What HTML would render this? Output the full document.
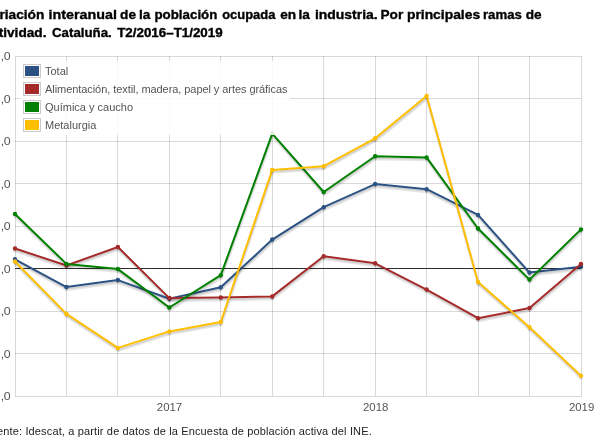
<!DOCTYPE html>
<html><head><meta charset="utf-8"><style>
html,body{margin:0;padding:0;background:#fff;}
body{width:600px;height:448px;overflow:hidden;position:relative;font-family:"Liberation Sans",sans-serif;}
svg{position:absolute;left:0;top:0;}
.lbl,.lt,.foot,.ttl{will-change:transform;}
.legbg{position:absolute;left:20px;top:61px;width:270px;height:74px;background:#fff;opacity:0.85;}
.sw{position:absolute;left:23px;width:14px;height:10px;border:1px solid #ccc;padding:1px;}
.sw div{width:4px;height:0;border:5px solid;overflow:hidden;}
.lt{position:absolute;left:45px;font-size:11px;line-height:18px;color:#545454;white-space:nowrap;}
.foot{position:absolute;left:-3.3px;top:425px;font-size:11px;color:#222;white-space:nowrap;letter-spacing:0.145px;}
</style></head><body>
<svg class="ttl" width="600" height="448" viewBox="0 0 600 448"><g font-family="Liberation Sans" font-weight="bold" font-size="13" fill="#000" stroke="#000" stroke-width="0.35"><text transform="translate(-0.55,19) scale(1.054,1)">riación</text><text transform="translate(48.60,19) scale(1.102,1)">interanual</text><text transform="translate(120.12,19) scale(1.050,1)">de</text><text transform="translate(139.00,19) scale(1.050,1)">la</text><text transform="translate(154.47,19) scale(1.025,1)">población</text><text transform="translate(222.20,19) scale(0.996,1)">ocupada</text><text transform="translate(280.23,19) scale(1.050,1)">en</text><text transform="translate(298.50,19) scale(1.050,1)">la</text><text transform="translate(314.93,19) scale(1.074,1)">industria.</text><text transform="translate(380.53,19) scale(1.050,1)">Por</text><text transform="translate(406.93,19) scale(1.067,1)">principales</text><text transform="translate(482.99,19) scale(1.014,1)">ramas</text><text transform="translate(525.73,19) scale(1.050,1)">de</text><text transform="translate(-16.45,37) scale(1.05,1)">actividad.</text><text transform="translate(52,37) scale(1.022,1)">Cataluña.</text><text transform="translate(117.2,37) scale(1.115,1)" font-size="12">T2/2016–T1/2019</text></g></svg>
<svg width="600" height="448" viewBox="0 0 600 448">
<rect x="15" y="268" width="566" height="1" fill="#222"/>
<g fill="rgba(84,84,84,0.22)">
<rect x="66" y="56" width="1" height="340" />
<rect x="117" y="56" width="1" height="340" />
<rect x="169" y="56" width="1" height="340" />
<rect x="220" y="56" width="1" height="340" />
<rect x="272" y="56" width="1" height="340" />
<rect x="323" y="56" width="1" height="340" />
<rect x="375" y="56" width="1" height="340" />
<rect x="426" y="56" width="1" height="340" />
<rect x="478" y="56" width="1" height="340" />
<rect x="529" y="56" width="1" height="340" />
<rect x="15" y="98" width="566" height="1" />
<rect x="15" y="141" width="566" height="1" />
<rect x="15" y="183" width="566" height="1" />
<rect x="15" y="226" width="566" height="1" />
<rect x="15" y="268" width="566" height="1" />
<rect x="15" y="311" width="566" height="1" />
<rect x="15" y="353" width="566" height="1" />
</g>
<rect x="15.5" y="56.5" width="566" height="340" fill="none" stroke="rgba(84,84,84,0.22)" stroke-width="1"/>
<g fill="none" stroke-linejoin="round">
<polyline points="15.43,261.76 66.88,289.56 118.33,282.56 169.78,301.16 221.23,289.76 272.68,242.06 324.13,209.66 375.58,186.56 427.03,191.66 478.48,217.36 529.93,275.06 581.38,269.26" stroke="rgba(0,0,0,0.1)" stroke-width="3"/>
<polyline points="15.30,261.02 66.75,288.82 118.20,281.82 169.65,300.42 221.10,289.02 272.55,241.32 324.00,208.92 375.45,185.82 426.90,190.92 478.35,216.62 529.80,274.32 581.25,268.52" stroke="rgba(0,0,0,0.1)" stroke-width="1.5"/>
<polyline points="15.00,259.30 66.45,287.10 117.90,280.10 169.35,298.70 220.80,287.30 272.25,239.60 323.70,207.20 375.15,184.10 426.60,189.20 478.05,214.90 529.50,272.60 580.95,266.80" stroke="#2b5283" stroke-width="2"/>
<path d="M16.00,261.55 A1,1 0 0 1 14.00,261.55" stroke="rgba(0,0,0,0.1)" stroke-width="1.5" fill="none"/>
<path d="M16.00,260.05 A1,1 0 0 1 14.00,260.05" stroke="rgba(0,0,0,0.2)" stroke-width="1.5" fill="none"/>
<path d="M67.45,289.35 A1,1 0 0 1 65.45,289.35" stroke="rgba(0,0,0,0.1)" stroke-width="1.5" fill="none"/>
<path d="M67.45,287.85 A1,1 0 0 1 65.45,287.85" stroke="rgba(0,0,0,0.2)" stroke-width="1.5" fill="none"/>
<path d="M118.90,282.35 A1,1 0 0 1 116.90,282.35" stroke="rgba(0,0,0,0.1)" stroke-width="1.5" fill="none"/>
<path d="M118.90,280.85 A1,1 0 0 1 116.90,280.85" stroke="rgba(0,0,0,0.2)" stroke-width="1.5" fill="none"/>
<path d="M170.35,300.95 A1,1 0 0 1 168.35,300.95" stroke="rgba(0,0,0,0.1)" stroke-width="1.5" fill="none"/>
<path d="M170.35,299.45 A1,1 0 0 1 168.35,299.45" stroke="rgba(0,0,0,0.2)" stroke-width="1.5" fill="none"/>
<path d="M221.80,289.55 A1,1 0 0 1 219.80,289.55" stroke="rgba(0,0,0,0.1)" stroke-width="1.5" fill="none"/>
<path d="M221.80,288.05 A1,1 0 0 1 219.80,288.05" stroke="rgba(0,0,0,0.2)" stroke-width="1.5" fill="none"/>
<path d="M273.25,241.85 A1,1 0 0 1 271.25,241.85" stroke="rgba(0,0,0,0.1)" stroke-width="1.5" fill="none"/>
<path d="M273.25,240.35 A1,1 0 0 1 271.25,240.35" stroke="rgba(0,0,0,0.2)" stroke-width="1.5" fill="none"/>
<path d="M324.70,209.45 A1,1 0 0 1 322.70,209.45" stroke="rgba(0,0,0,0.1)" stroke-width="1.5" fill="none"/>
<path d="M324.70,207.95 A1,1 0 0 1 322.70,207.95" stroke="rgba(0,0,0,0.2)" stroke-width="1.5" fill="none"/>
<path d="M376.15,186.35 A1,1 0 0 1 374.15,186.35" stroke="rgba(0,0,0,0.1)" stroke-width="1.5" fill="none"/>
<path d="M376.15,184.85 A1,1 0 0 1 374.15,184.85" stroke="rgba(0,0,0,0.2)" stroke-width="1.5" fill="none"/>
<path d="M427.60,191.45 A1,1 0 0 1 425.60,191.45" stroke="rgba(0,0,0,0.1)" stroke-width="1.5" fill="none"/>
<path d="M427.60,189.95 A1,1 0 0 1 425.60,189.95" stroke="rgba(0,0,0,0.2)" stroke-width="1.5" fill="none"/>
<path d="M479.05,217.15 A1,1 0 0 1 477.05,217.15" stroke="rgba(0,0,0,0.1)" stroke-width="1.5" fill="none"/>
<path d="M479.05,215.65 A1,1 0 0 1 477.05,215.65" stroke="rgba(0,0,0,0.2)" stroke-width="1.5" fill="none"/>
<path d="M530.50,274.85 A1,1 0 0 1 528.50,274.85" stroke="rgba(0,0,0,0.1)" stroke-width="1.5" fill="none"/>
<path d="M530.50,273.35 A1,1 0 0 1 528.50,273.35" stroke="rgba(0,0,0,0.2)" stroke-width="1.5" fill="none"/>
<path d="M581.95,269.05 A1,1 0 0 1 579.95,269.05" stroke="rgba(0,0,0,0.1)" stroke-width="1.5" fill="none"/>
<path d="M581.95,267.55 A1,1 0 0 1 579.95,267.55" stroke="rgba(0,0,0,0.2)" stroke-width="1.5" fill="none"/>
<circle cx="15.00" cy="259.30" r="1.25" fill="#2b5283" stroke="#2b5283" stroke-width="2"/>
<circle cx="66.45" cy="287.10" r="1.25" fill="#2b5283" stroke="#2b5283" stroke-width="2"/>
<circle cx="117.90" cy="280.10" r="1.25" fill="#2b5283" stroke="#2b5283" stroke-width="2"/>
<circle cx="169.35" cy="298.70" r="1.25" fill="#2b5283" stroke="#2b5283" stroke-width="2"/>
<circle cx="220.80" cy="287.30" r="1.25" fill="#2b5283" stroke="#2b5283" stroke-width="2"/>
<circle cx="272.25" cy="239.60" r="1.25" fill="#2b5283" stroke="#2b5283" stroke-width="2"/>
<circle cx="323.70" cy="207.20" r="1.25" fill="#2b5283" stroke="#2b5283" stroke-width="2"/>
<circle cx="375.15" cy="184.10" r="1.25" fill="#2b5283" stroke="#2b5283" stroke-width="2"/>
<circle cx="426.60" cy="189.20" r="1.25" fill="#2b5283" stroke="#2b5283" stroke-width="2"/>
<circle cx="478.05" cy="214.90" r="1.25" fill="#2b5283" stroke="#2b5283" stroke-width="2"/>
<circle cx="529.50" cy="272.60" r="1.25" fill="#2b5283" stroke="#2b5283" stroke-width="2"/>
<circle cx="580.95" cy="266.80" r="1.25" fill="#2b5283" stroke="#2b5283" stroke-width="2"/>
<polyline points="15.43,250.96 66.88,267.96 118.33,249.46 169.78,300.56 221.23,299.96 272.68,298.86 324.13,258.76 375.58,265.76 427.03,292.06 478.48,320.66 529.93,310.56 581.38,266.56" stroke="rgba(0,0,0,0.1)" stroke-width="3"/>
<polyline points="15.30,250.22 66.75,267.22 118.20,248.72 169.65,299.82 221.10,299.22 272.55,298.12 324.00,258.02 375.45,265.02 426.90,291.32 478.35,319.92 529.80,309.82 581.25,265.82" stroke="rgba(0,0,0,0.1)" stroke-width="1.5"/>
<polyline points="15.00,248.50 66.45,265.50 117.90,247.00 169.35,298.10 220.80,297.50 272.25,296.40 323.70,256.30 375.15,263.30 426.60,289.60 478.05,318.20 529.50,308.10 580.95,264.10" stroke="#a52a2a" stroke-width="2"/>
<path d="M16.00,250.75 A1,1 0 0 1 14.00,250.75" stroke="rgba(0,0,0,0.1)" stroke-width="1.5" fill="none"/>
<path d="M16.00,249.25 A1,1 0 0 1 14.00,249.25" stroke="rgba(0,0,0,0.2)" stroke-width="1.5" fill="none"/>
<path d="M67.45,267.75 A1,1 0 0 1 65.45,267.75" stroke="rgba(0,0,0,0.1)" stroke-width="1.5" fill="none"/>
<path d="M67.45,266.25 A1,1 0 0 1 65.45,266.25" stroke="rgba(0,0,0,0.2)" stroke-width="1.5" fill="none"/>
<path d="M118.90,249.25 A1,1 0 0 1 116.90,249.25" stroke="rgba(0,0,0,0.1)" stroke-width="1.5" fill="none"/>
<path d="M118.90,247.75 A1,1 0 0 1 116.90,247.75" stroke="rgba(0,0,0,0.2)" stroke-width="1.5" fill="none"/>
<path d="M170.35,300.35 A1,1 0 0 1 168.35,300.35" stroke="rgba(0,0,0,0.1)" stroke-width="1.5" fill="none"/>
<path d="M170.35,298.85 A1,1 0 0 1 168.35,298.85" stroke="rgba(0,0,0,0.2)" stroke-width="1.5" fill="none"/>
<path d="M221.80,299.75 A1,1 0 0 1 219.80,299.75" stroke="rgba(0,0,0,0.1)" stroke-width="1.5" fill="none"/>
<path d="M221.80,298.25 A1,1 0 0 1 219.80,298.25" stroke="rgba(0,0,0,0.2)" stroke-width="1.5" fill="none"/>
<path d="M273.25,298.65 A1,1 0 0 1 271.25,298.65" stroke="rgba(0,0,0,0.1)" stroke-width="1.5" fill="none"/>
<path d="M273.25,297.15 A1,1 0 0 1 271.25,297.15" stroke="rgba(0,0,0,0.2)" stroke-width="1.5" fill="none"/>
<path d="M324.70,258.55 A1,1 0 0 1 322.70,258.55" stroke="rgba(0,0,0,0.1)" stroke-width="1.5" fill="none"/>
<path d="M324.70,257.05 A1,1 0 0 1 322.70,257.05" stroke="rgba(0,0,0,0.2)" stroke-width="1.5" fill="none"/>
<path d="M376.15,265.55 A1,1 0 0 1 374.15,265.55" stroke="rgba(0,0,0,0.1)" stroke-width="1.5" fill="none"/>
<path d="M376.15,264.05 A1,1 0 0 1 374.15,264.05" stroke="rgba(0,0,0,0.2)" stroke-width="1.5" fill="none"/>
<path d="M427.60,291.85 A1,1 0 0 1 425.60,291.85" stroke="rgba(0,0,0,0.1)" stroke-width="1.5" fill="none"/>
<path d="M427.60,290.35 A1,1 0 0 1 425.60,290.35" stroke="rgba(0,0,0,0.2)" stroke-width="1.5" fill="none"/>
<path d="M479.05,320.45 A1,1 0 0 1 477.05,320.45" stroke="rgba(0,0,0,0.1)" stroke-width="1.5" fill="none"/>
<path d="M479.05,318.95 A1,1 0 0 1 477.05,318.95" stroke="rgba(0,0,0,0.2)" stroke-width="1.5" fill="none"/>
<path d="M530.50,310.35 A1,1 0 0 1 528.50,310.35" stroke="rgba(0,0,0,0.1)" stroke-width="1.5" fill="none"/>
<path d="M530.50,308.85 A1,1 0 0 1 528.50,308.85" stroke="rgba(0,0,0,0.2)" stroke-width="1.5" fill="none"/>
<path d="M581.95,266.35 A1,1 0 0 1 579.95,266.35" stroke="rgba(0,0,0,0.1)" stroke-width="1.5" fill="none"/>
<path d="M581.95,264.85 A1,1 0 0 1 579.95,264.85" stroke="rgba(0,0,0,0.2)" stroke-width="1.5" fill="none"/>
<circle cx="15.00" cy="248.50" r="1.25" fill="#a52a2a" stroke="#a52a2a" stroke-width="2"/>
<circle cx="66.45" cy="265.50" r="1.25" fill="#a52a2a" stroke="#a52a2a" stroke-width="2"/>
<circle cx="117.90" cy="247.00" r="1.25" fill="#a52a2a" stroke="#a52a2a" stroke-width="2"/>
<circle cx="169.35" cy="298.10" r="1.25" fill="#a52a2a" stroke="#a52a2a" stroke-width="2"/>
<circle cx="220.80" cy="297.50" r="1.25" fill="#a52a2a" stroke="#a52a2a" stroke-width="2"/>
<circle cx="272.25" cy="296.40" r="1.25" fill="#a52a2a" stroke="#a52a2a" stroke-width="2"/>
<circle cx="323.70" cy="256.30" r="1.25" fill="#a52a2a" stroke="#a52a2a" stroke-width="2"/>
<circle cx="375.15" cy="263.30" r="1.25" fill="#a52a2a" stroke="#a52a2a" stroke-width="2"/>
<circle cx="426.60" cy="289.60" r="1.25" fill="#a52a2a" stroke="#a52a2a" stroke-width="2"/>
<circle cx="478.05" cy="318.20" r="1.25" fill="#a52a2a" stroke="#a52a2a" stroke-width="2"/>
<circle cx="529.50" cy="308.10" r="1.25" fill="#a52a2a" stroke="#a52a2a" stroke-width="2"/>
<circle cx="580.95" cy="264.10" r="1.25" fill="#a52a2a" stroke="#a52a2a" stroke-width="2"/>
<polyline points="15.43,216.46 66.88,266.36 118.33,271.56 169.78,309.96 221.23,277.66 272.68,136.06 324.13,194.46 375.58,158.71 427.03,159.86 478.48,230.96 529.93,282.06 581.38,231.86" stroke="rgba(0,0,0,0.1)" stroke-width="3"/>
<polyline points="15.30,215.72 66.75,265.62 118.20,270.82 169.65,309.22 221.10,276.92 272.55,135.32 324.00,193.72 375.45,157.97 426.90,159.12 478.35,230.22 529.80,281.32 581.25,231.12" stroke="rgba(0,0,0,0.1)" stroke-width="1.5"/>
<polyline points="15.00,214.00 66.45,263.90 117.90,269.10 169.35,307.50 220.80,275.20 272.25,133.60 323.70,192.00 375.15,156.25 426.60,157.40 478.05,228.50 529.50,279.60 580.95,229.40" stroke="#008000" stroke-width="2"/>
<path d="M16.00,216.25 A1,1 0 0 1 14.00,216.25" stroke="rgba(0,0,0,0.1)" stroke-width="1.5" fill="none"/>
<path d="M16.00,214.75 A1,1 0 0 1 14.00,214.75" stroke="rgba(0,0,0,0.2)" stroke-width="1.5" fill="none"/>
<path d="M67.45,266.15 A1,1 0 0 1 65.45,266.15" stroke="rgba(0,0,0,0.1)" stroke-width="1.5" fill="none"/>
<path d="M67.45,264.65 A1,1 0 0 1 65.45,264.65" stroke="rgba(0,0,0,0.2)" stroke-width="1.5" fill="none"/>
<path d="M118.90,271.35 A1,1 0 0 1 116.90,271.35" stroke="rgba(0,0,0,0.1)" stroke-width="1.5" fill="none"/>
<path d="M118.90,269.85 A1,1 0 0 1 116.90,269.85" stroke="rgba(0,0,0,0.2)" stroke-width="1.5" fill="none"/>
<path d="M170.35,309.75 A1,1 0 0 1 168.35,309.75" stroke="rgba(0,0,0,0.1)" stroke-width="1.5" fill="none"/>
<path d="M170.35,308.25 A1,1 0 0 1 168.35,308.25" stroke="rgba(0,0,0,0.2)" stroke-width="1.5" fill="none"/>
<path d="M221.80,277.45 A1,1 0 0 1 219.80,277.45" stroke="rgba(0,0,0,0.1)" stroke-width="1.5" fill="none"/>
<path d="M221.80,275.95 A1,1 0 0 1 219.80,275.95" stroke="rgba(0,0,0,0.2)" stroke-width="1.5" fill="none"/>
<path d="M273.25,135.85 A1,1 0 0 1 271.25,135.85" stroke="rgba(0,0,0,0.1)" stroke-width="1.5" fill="none"/>
<path d="M273.25,134.35 A1,1 0 0 1 271.25,134.35" stroke="rgba(0,0,0,0.2)" stroke-width="1.5" fill="none"/>
<path d="M324.70,194.25 A1,1 0 0 1 322.70,194.25" stroke="rgba(0,0,0,0.1)" stroke-width="1.5" fill="none"/>
<path d="M324.70,192.75 A1,1 0 0 1 322.70,192.75" stroke="rgba(0,0,0,0.2)" stroke-width="1.5" fill="none"/>
<path d="M376.15,158.50 A1,1 0 0 1 374.15,158.50" stroke="rgba(0,0,0,0.1)" stroke-width="1.5" fill="none"/>
<path d="M376.15,157.00 A1,1 0 0 1 374.15,157.00" stroke="rgba(0,0,0,0.2)" stroke-width="1.5" fill="none"/>
<path d="M427.60,159.65 A1,1 0 0 1 425.60,159.65" stroke="rgba(0,0,0,0.1)" stroke-width="1.5" fill="none"/>
<path d="M427.60,158.15 A1,1 0 0 1 425.60,158.15" stroke="rgba(0,0,0,0.2)" stroke-width="1.5" fill="none"/>
<path d="M479.05,230.75 A1,1 0 0 1 477.05,230.75" stroke="rgba(0,0,0,0.1)" stroke-width="1.5" fill="none"/>
<path d="M479.05,229.25 A1,1 0 0 1 477.05,229.25" stroke="rgba(0,0,0,0.2)" stroke-width="1.5" fill="none"/>
<path d="M530.50,281.85 A1,1 0 0 1 528.50,281.85" stroke="rgba(0,0,0,0.1)" stroke-width="1.5" fill="none"/>
<path d="M530.50,280.35 A1,1 0 0 1 528.50,280.35" stroke="rgba(0,0,0,0.2)" stroke-width="1.5" fill="none"/>
<path d="M581.95,231.65 A1,1 0 0 1 579.95,231.65" stroke="rgba(0,0,0,0.1)" stroke-width="1.5" fill="none"/>
<path d="M581.95,230.15 A1,1 0 0 1 579.95,230.15" stroke="rgba(0,0,0,0.2)" stroke-width="1.5" fill="none"/>
<circle cx="15.00" cy="214.00" r="1.25" fill="#008000" stroke="#008000" stroke-width="2"/>
<circle cx="66.45" cy="263.90" r="1.25" fill="#008000" stroke="#008000" stroke-width="2"/>
<circle cx="117.90" cy="269.10" r="1.25" fill="#008000" stroke="#008000" stroke-width="2"/>
<circle cx="169.35" cy="307.50" r="1.25" fill="#008000" stroke="#008000" stroke-width="2"/>
<circle cx="220.80" cy="275.20" r="1.25" fill="#008000" stroke="#008000" stroke-width="2"/>
<circle cx="272.25" cy="133.60" r="1.25" fill="#008000" stroke="#008000" stroke-width="2"/>
<circle cx="323.70" cy="192.00" r="1.25" fill="#008000" stroke="#008000" stroke-width="2"/>
<circle cx="375.15" cy="156.25" r="1.25" fill="#008000" stroke="#008000" stroke-width="2"/>
<circle cx="426.60" cy="157.40" r="1.25" fill="#008000" stroke="#008000" stroke-width="2"/>
<circle cx="478.05" cy="228.50" r="1.25" fill="#008000" stroke="#008000" stroke-width="2"/>
<circle cx="529.50" cy="279.60" r="1.25" fill="#008000" stroke="#008000" stroke-width="2"/>
<circle cx="580.95" cy="229.40" r="1.25" fill="#008000" stroke="#008000" stroke-width="2"/>
<polyline points="15.43,263.96 66.88,316.36 118.33,350.36 169.78,333.86 221.23,324.46 272.68,172.36 324.13,168.66 375.58,140.76 427.03,98.56 478.48,284.46 529.93,329.66 581.38,378.16" stroke="rgba(0,0,0,0.1)" stroke-width="3"/>
<polyline points="15.30,263.22 66.75,315.62 118.20,349.62 169.65,333.12 221.10,323.72 272.55,171.62 324.00,167.92 375.45,140.02 426.90,97.82 478.35,283.72 529.80,328.92 581.25,377.42" stroke="rgba(0,0,0,0.1)" stroke-width="1.5"/>
<polyline points="15.00,261.50 66.45,313.90 117.90,347.90 169.35,331.40 220.80,322.00 272.25,169.90 323.70,166.20 375.15,138.30 426.60,96.10 478.05,282.00 529.50,327.20 580.95,375.70" stroke="#ffbf00" stroke-width="2"/>
<path d="M16.00,263.75 A1,1 0 0 1 14.00,263.75" stroke="rgba(0,0,0,0.1)" stroke-width="1.5" fill="none"/>
<path d="M16.00,262.25 A1,1 0 0 1 14.00,262.25" stroke="rgba(0,0,0,0.2)" stroke-width="1.5" fill="none"/>
<path d="M67.45,316.15 A1,1 0 0 1 65.45,316.15" stroke="rgba(0,0,0,0.1)" stroke-width="1.5" fill="none"/>
<path d="M67.45,314.65 A1,1 0 0 1 65.45,314.65" stroke="rgba(0,0,0,0.2)" stroke-width="1.5" fill="none"/>
<path d="M118.90,350.15 A1,1 0 0 1 116.90,350.15" stroke="rgba(0,0,0,0.1)" stroke-width="1.5" fill="none"/>
<path d="M118.90,348.65 A1,1 0 0 1 116.90,348.65" stroke="rgba(0,0,0,0.2)" stroke-width="1.5" fill="none"/>
<path d="M170.35,333.65 A1,1 0 0 1 168.35,333.65" stroke="rgba(0,0,0,0.1)" stroke-width="1.5" fill="none"/>
<path d="M170.35,332.15 A1,1 0 0 1 168.35,332.15" stroke="rgba(0,0,0,0.2)" stroke-width="1.5" fill="none"/>
<path d="M221.80,324.25 A1,1 0 0 1 219.80,324.25" stroke="rgba(0,0,0,0.1)" stroke-width="1.5" fill="none"/>
<path d="M221.80,322.75 A1,1 0 0 1 219.80,322.75" stroke="rgba(0,0,0,0.2)" stroke-width="1.5" fill="none"/>
<path d="M273.25,172.15 A1,1 0 0 1 271.25,172.15" stroke="rgba(0,0,0,0.1)" stroke-width="1.5" fill="none"/>
<path d="M273.25,170.65 A1,1 0 0 1 271.25,170.65" stroke="rgba(0,0,0,0.2)" stroke-width="1.5" fill="none"/>
<path d="M324.70,168.45 A1,1 0 0 1 322.70,168.45" stroke="rgba(0,0,0,0.1)" stroke-width="1.5" fill="none"/>
<path d="M324.70,166.95 A1,1 0 0 1 322.70,166.95" stroke="rgba(0,0,0,0.2)" stroke-width="1.5" fill="none"/>
<path d="M376.15,140.55 A1,1 0 0 1 374.15,140.55" stroke="rgba(0,0,0,0.1)" stroke-width="1.5" fill="none"/>
<path d="M376.15,139.05 A1,1 0 0 1 374.15,139.05" stroke="rgba(0,0,0,0.2)" stroke-width="1.5" fill="none"/>
<path d="M427.60,98.35 A1,1 0 0 1 425.60,98.35" stroke="rgba(0,0,0,0.1)" stroke-width="1.5" fill="none"/>
<path d="M427.60,96.85 A1,1 0 0 1 425.60,96.85" stroke="rgba(0,0,0,0.2)" stroke-width="1.5" fill="none"/>
<path d="M479.05,284.25 A1,1 0 0 1 477.05,284.25" stroke="rgba(0,0,0,0.1)" stroke-width="1.5" fill="none"/>
<path d="M479.05,282.75 A1,1 0 0 1 477.05,282.75" stroke="rgba(0,0,0,0.2)" stroke-width="1.5" fill="none"/>
<path d="M530.50,329.45 A1,1 0 0 1 528.50,329.45" stroke="rgba(0,0,0,0.1)" stroke-width="1.5" fill="none"/>
<path d="M530.50,327.95 A1,1 0 0 1 528.50,327.95" stroke="rgba(0,0,0,0.2)" stroke-width="1.5" fill="none"/>
<path d="M581.95,377.95 A1,1 0 0 1 579.95,377.95" stroke="rgba(0,0,0,0.1)" stroke-width="1.5" fill="none"/>
<path d="M581.95,376.45 A1,1 0 0 1 579.95,376.45" stroke="rgba(0,0,0,0.2)" stroke-width="1.5" fill="none"/>
<circle cx="15.00" cy="261.50" r="1.25" fill="#ffbf00" stroke="#ffbf00" stroke-width="2"/>
<circle cx="66.45" cy="313.90" r="1.25" fill="#ffbf00" stroke="#ffbf00" stroke-width="2"/>
<circle cx="117.90" cy="347.90" r="1.25" fill="#ffbf00" stroke="#ffbf00" stroke-width="2"/>
<circle cx="169.35" cy="331.40" r="1.25" fill="#ffbf00" stroke="#ffbf00" stroke-width="2"/>
<circle cx="220.80" cy="322.00" r="1.25" fill="#ffbf00" stroke="#ffbf00" stroke-width="2"/>
<circle cx="272.25" cy="169.90" r="1.25" fill="#ffbf00" stroke="#ffbf00" stroke-width="2"/>
<circle cx="323.70" cy="166.20" r="1.25" fill="#ffbf00" stroke="#ffbf00" stroke-width="2"/>
<circle cx="375.15" cy="138.30" r="1.25" fill="#ffbf00" stroke="#ffbf00" stroke-width="2"/>
<circle cx="426.60" cy="96.10" r="1.25" fill="#ffbf00" stroke="#ffbf00" stroke-width="2"/>
<circle cx="478.05" cy="282.00" r="1.25" fill="#ffbf00" stroke="#ffbf00" stroke-width="2"/>
<circle cx="529.50" cy="327.20" r="1.25" fill="#ffbf00" stroke="#ffbf00" stroke-width="2"/>
<circle cx="580.95" cy="375.70" r="1.25" fill="#ffbf00" stroke="#ffbf00" stroke-width="2"/>
</g>
</svg>
<svg class="lbl" width="600" height="448" viewBox="0 0 600 448">
<g font-family="Liberation Sans" font-size="11" fill="#545454">
<text transform="translate(10.5,59.5) scale(1.12,1)" text-anchor="end">0</text><text transform="translate(0.8,59.5) scale(1.12,1)">,</text>
<text transform="translate(10.5,102.5) scale(1.12,1)" text-anchor="end">0</text><text transform="translate(0.8,102.5) scale(1.12,1)">,</text>
<text transform="translate(10.5,144.5) scale(1.12,1)" text-anchor="end">0</text><text transform="translate(0.8,144.5) scale(1.12,1)">,</text>
<text transform="translate(10.5,187.5) scale(1.12,1)" text-anchor="end">0</text><text transform="translate(0.8,187.5) scale(1.12,1)">,</text>
<text transform="translate(10.5,229.5) scale(1.12,1)" text-anchor="end">0</text><text transform="translate(0.8,229.5) scale(1.12,1)">,</text>
<text transform="translate(10.5,272.5) scale(1.12,1)" text-anchor="end">0</text><text transform="translate(0.8,272.5) scale(1.12,1)">,</text>
<text transform="translate(10.5,314.5) scale(1.12,1)" text-anchor="end">0</text><text transform="translate(0.8,314.5) scale(1.12,1)">,</text>
<text transform="translate(10.5,357.5) scale(1.12,1)" text-anchor="end">0</text><text transform="translate(0.8,357.5) scale(1.12,1)">,</text>
<text transform="translate(10.5,399.5) scale(1.12,1)" text-anchor="end">0</text><text transform="translate(0.8,399.5) scale(1.12,1)">,</text>
<text x="156.8" y="410.8" textLength="25.4" lengthAdjust="spacingAndGlyphs">2017</text>
<text x="363.0" y="410.8" textLength="25.4" lengthAdjust="spacingAndGlyphs">2018</text>
<text x="568.9" y="410.8" textLength="25.4" lengthAdjust="spacingAndGlyphs">2019</text>
</g>
</svg>
<div class="legbg"></div>
<div class="sw" style="top:64px"><div style="border-color:#2b5283"></div></div>
<div class="lt" style="top:62px;">Total</div>
<div class="sw" style="top:82px"><div style="border-color:#a52a2a"></div></div>
<div class="lt" style="top:80px;letter-spacing:-0.065px;">Alimentación, textil, madera, papel y artes gráficas</div>
<div class="sw" style="top:100px"><div style="border-color:#008000"></div></div>
<div class="lt" style="top:98px;">Química y caucho</div>
<div class="sw" style="top:118px"><div style="border-color:#ffbf00"></div></div>
<div class="lt" style="top:116px;">Metalurgia</div>
<div class="foot">ente: Idescat, a partir de datos de la Encuesta de población activa del INE.</div>
</body></html>
